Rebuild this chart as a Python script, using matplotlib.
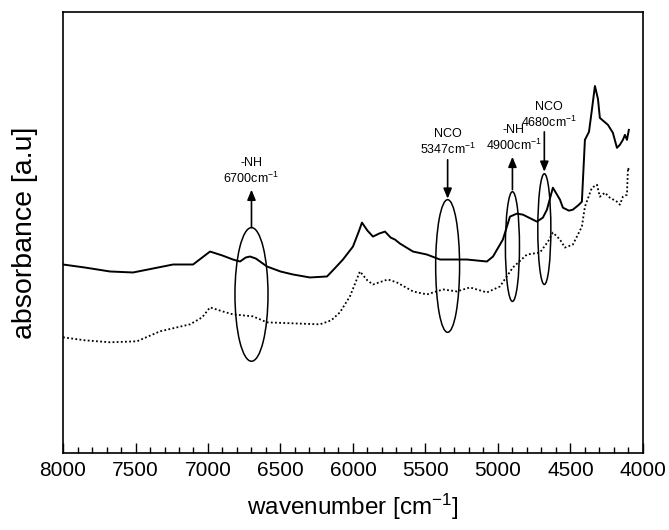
import numpy as np
import matplotlib
matplotlib.use("Agg")
import matplotlib.pyplot as plt
from matplotlib.patches import Ellipse
from matplotlib.ticker import MultipleLocator

plt.rcParams["font.family"] = ["Liberation Sans", "DejaVu Sans"]
plt.rcParams["mathtext.fontset"] = "custom"
plt.rcParams["mathtext.rm"] = "Liberation Sans"
plt.rcParams["mathtext.default"] = "regular"

# spectrum 1 (solid)
wn_solid = [8000, 7850, 7676, 7517, 7379, 7241, 7103, 7040, 6986, 6900, 6828,
            6779, 6740, 6710, 6670, 6641, 6593, 6500, 6414, 6297, 6179, 6120,
            6069, 6000, 5960, 5938, 5900, 5862, 5820, 5779, 5740, 5710, 5676,
            5586, 5490, 5400, 5300, 5214, 5076, 5034, 4966, 4917, 4870, 4828,
            4731, 4690, 4662, 4621, 4572, 4552, 4510, 4483, 4441, 4421, 4400,
            4372, 4352, 4331, 4310, 4297, 4241, 4207, 4179, 4159, 4138, 4124,
            4110, 4097]
abs_solid = [1.89, 1.86, 1.82, 1.81, 1.85, 1.89, 1.89, 1.96, 2.02, 1.98, 1.94,
             1.92, 1.96, 1.97, 1.95, 1.92, 1.87, 1.82, 1.79, 1.76, 1.77, 1.86,
             1.94, 2.07, 2.22, 2.31, 2.23, 2.17, 2.20, 2.22, 2.16, 2.14, 2.10,
             2.02, 1.99, 1.94, 1.94, 1.94, 1.92, 1.97, 2.14, 2.37, 2.40, 2.39,
             2.32, 2.36, 2.44, 2.66, 2.54, 2.46, 2.43, 2.44, 2.49, 2.52, 3.14,
             3.22, 3.44, 3.68, 3.55, 3.36, 3.29, 3.21, 3.06, 3.09, 3.14, 3.19,
             3.14, 3.24]

# spectrum 2 (dotted)
wn_dot = [8000, 7850, 7676, 7490, 7331, 7124, 7040, 6986, 6900, 6828, 6690,
          6593, 6414, 6228, 6150, 6090, 6021, 5952, 5900, 5862, 5759, 5697,
          5586, 5490, 5379, 5283, 5193, 5076, 4986, 4897, 4800, 4710, 4655,
          4621, 4572, 4538, 4483, 4421, 4400, 4352, 4317, 4297, 4262, 4228,
          4179, 4159, 4138, 4110, 4103, 4097]
abs_dot = [1.16, 1.13, 1.11, 1.12, 1.22, 1.29, 1.36, 1.46, 1.42, 1.39, 1.37,
           1.31, 1.30, 1.29, 1.33, 1.41, 1.57, 1.82, 1.73, 1.69, 1.74, 1.71,
           1.62, 1.59, 1.64, 1.62, 1.66, 1.61, 1.67, 1.86, 1.99, 2.01, 2.12,
           2.21, 2.14, 2.06, 2.09, 2.27, 2.47, 2.66, 2.69, 2.57, 2.61, 2.56,
           2.52, 2.49, 2.57, 2.59, 2.86, 2.84]

# marked bands: label, position, ellipse centre/height, arrow from/to
band_names = ["-NH", "NCO", "-NH", "NCO"]
band_pos = [6700, 5347, 4900, 4680]
band_width = [228, 165, 97, 90]
band_yc = [1.59, 1.875, 2.07, 2.245]
band_h = [1.34, 1.33, 1.10, 1.11]
arrow_from = [2.26, 2.94, 2.64, 3.22]
arrow_to = [2.64, 2.55, 2.97, 2.82]
text_x = [6700, 5347, 4890, 4650]
text_y = [2.68, 2.97, 3.01, 3.24]

fig = plt.figure(figsize=(6.69, 5.30), dpi=100)
ax = fig.add_axes([0.0942, 0.1453, 0.8668, 0.8317])

ax.plot(wn_solid, abs_solid, color="black", lw=1.4)
ax.plot(wn_dot, abs_dot, color="black", lw=1.3, linestyle=(0, (1, 1.3)))

for i in range(len(band_pos)):
    ax.add_patch(Ellipse((band_pos[i], band_yc[i]), band_width[i], band_h[i],
                         fill=False, edgecolor="black", lw=1.1))
    ax.annotate("", xy=(band_pos[i], arrow_to[i]), xytext=(band_pos[i], arrow_from[i]),
                arrowprops=dict(arrowstyle="-|>,head_width=0.25,head_length=0.6",
                                color="black", lw=1.2, shrinkA=0, shrinkB=0))
    ax.text(text_x[i], text_y[i], f"{band_names[i]}\n{band_pos[i]}cm$^{{-1}}$",
            ha="center", va="bottom", fontsize=9, linespacing=1.15)

ax.set_xlim(8000, 4000)
ax.set_ylim(0, 4.42)
ax.xaxis.set_major_locator(MultipleLocator(500))
ax.xaxis.set_minor_locator(MultipleLocator(100))
ax.tick_params(axis="x", which="major", direction="in", length=7, width=1,
               labelsize=15, pad=6)
ax.tick_params(axis="x", which="minor", direction="in", length=4, width=1)
ax.set_yticks([])

ax.set_xlabel("wavenumber [cm$^{-1}$]", fontsize=17.5, labelpad=8)
ax.set_ylabel("absorbance [a.u]", fontsize=20.5, labelpad=18)

for spine in ax.spines.values():
    spine.set_linewidth(1.2)

fig.savefig("out.png", dpi=100)
